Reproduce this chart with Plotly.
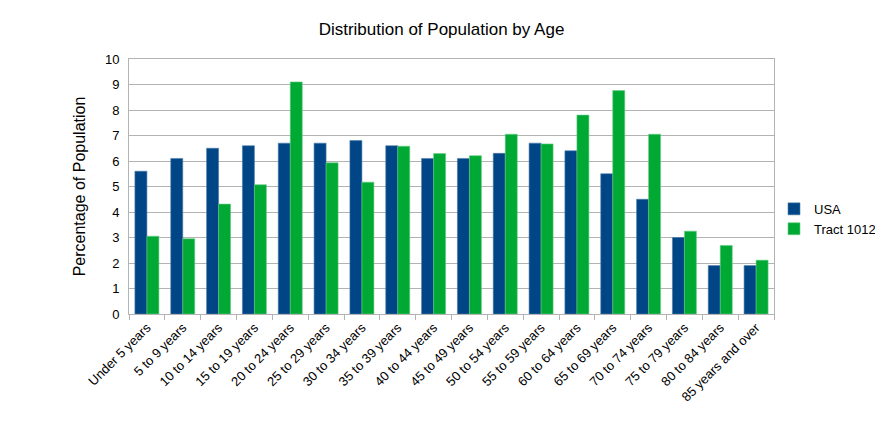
import plotly.graph_objects as go

categories = ["Under 5 years", "5 to 9 years", "10 to 14 years", "15 to 19 years",
              "20 to 24 years", "25 to 29 years", "30 to 34 years", "35 to 39 years",
              "40 to 44 years", "45 to 49 years", "50 to 54 years", "55 to 59 years",
              "60 to 64 years", "65 to 69 years", "70 to 74 years", "75 to 79 years",
              "80 to 84 years", "85 years and over"]
usa = [5.6, 6.1, 6.5, 6.6, 6.7, 6.7, 6.8, 6.6, 6.1, 6.1, 6.3, 6.7, 6.4, 5.5, 4.5, 3.0, 1.9, 1.9]
tract = [3.05, 2.95, 4.31, 5.07, 9.1, 5.93, 5.17, 6.58, 6.29, 6.21, 7.05, 6.67, 7.8, 8.76, 7.05, 3.25, 2.69, 2.11]

font = "Liberation Sans, Arial, sans-serif"

fig = go.Figure()
fig.add_trace(go.Bar(x=categories, y=usa, name="USA",
                     marker=dict(color="#004586", line=dict(color="#4d7daa", width=0.6))))
fig.add_trace(go.Bar(x=categories, y=tract, name="Tract 1012",
                     marker=dict(color="#00a933", line=dict(color="#66cc85", width=0.6))))

fig.update_layout(
    width=875, height=432,
    margin=dict(l=121, r=109, t=51, b=126, autoexpand=False),
    paper_bgcolor="white", plot_bgcolor="white",
    font=dict(family=font, size=13, color="black"),
    barmode="group", bargap=0.33, bargroupgap=0,
    title=dict(text="Distribution of Population by Age", x=(441.5 - 8) / 875, xref="container",
               y=1 - 21 / 432, yref="container", yanchor="middle", xanchor="center",
               font=dict(family=font, size=17, color="black")),
    legend=dict(x=1.0, xanchor="left", y=0.373, yanchor="middle",
                bgcolor="rgba(0,0,0,0)",
                font=dict(family=font, size=13, color="black"),
                itemwidth=30, tracegroupgap=0),
    xaxis=dict(tickangle=-45, tickson="boundaries", ticks="outside", ticklen=5,
               tickcolor="#b3b3b3", showline=True, linecolor="#b3b3b3", linewidth=1,
               mirror=True, showgrid=False, tickfont=dict(size=13)),
    yaxis=dict(range=[0, 10], dtick=1, showgrid=True, gridcolor="#b3b3b3", gridwidth=1,
               showline=True, linecolor="#b3b3b3", linewidth=1, mirror=True,
               ticks="", ticklabelstandoff=6, zeroline=False,
               title=dict(text="Percentage of Population", standoff=15,
                          font=dict(family=font, size=16, color="black"))),
)

fig.write_html("out.html")
